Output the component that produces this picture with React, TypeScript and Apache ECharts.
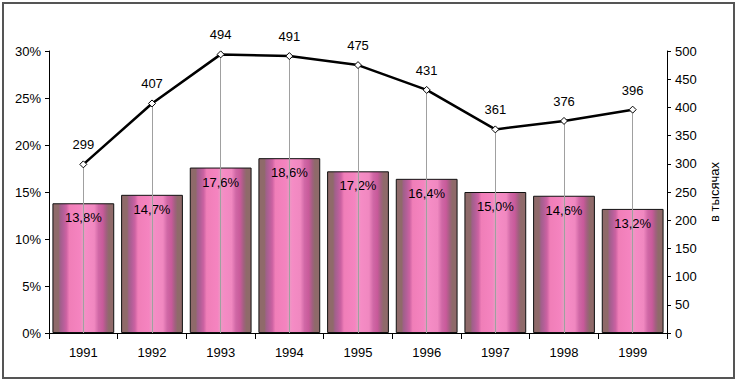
import React, { useEffect, useRef } from "react";
import * as echarts from "echarts";

const years = ["1991", "1992", "1993", "1994", "1995", "1996", "1997", "1998", "1999"];
const shares = [13.8, 14.7, 17.6, 18.6, 17.2, 16.4, 15.0, 14.6, 13.2];
const thousands = [299, 407, 494, 491, 475, 431, 361, 376, 396];
const rightAxisName = "в тысячах";

const FONT = "Liberation Sans, Arial, sans-serif";

export default function App() {
  const ref = useRef<HTMLDivElement>(null);
  useEffect(() => {
    document.body.style.margin = "0";
    const chart = echarts.init(ref.current!, null, { renderer: "svg" });
    const barGradient = new echarts.graphic.LinearGradient(0, 0, 1, 0, [
      { offset: 0, color: "#8f6a6a" },
      { offset: 0.09, color: "#8f6a6a" },
      { offset: 0.12, color: "#a0608a" },
      { offset: 0.17, color: "#b45f98" },
      { offset: 0.22, color: "#cc62a2" },
      { offset: 0.27, color: "#f07eb8" },
      { offset: 0.45, color: "#f584c0" },
      { offset: 0.5, color: "#e99bc2" },
      { offset: 0.55, color: "#f58cc5" },
      { offset: 0.68, color: "#f088c0" },
      { offset: 0.75, color: "#d068a6" },
      { offset: 0.82, color: "#c85a9a" },
      { offset: 0.88, color: "#a0607e" },
      { offset: 0.92, color: "#8f6a6a" },
      { offset: 1, color: "#8f6a6a" },
    ]);
    chart.setOption({
      animation: false,
      textStyle: { fontFamily: FONT },
      graphic: [
        {
          type: "rect",
          shape: { x: 3, y: 3, width: 731, height: 375 },
          style: { fill: "none", stroke: "#555", lineWidth: 2 },
          silent: true,
        },
      ],
      grid: { left: 49, right: 70, top: 51, bottom: 49 },
      xAxis: {
        type: "category",
        data: years,
        boundaryGap: true,
        axisLine: { lineStyle: { color: "#000", width: 1 } },
        axisTick: { show: true, length: 6, inside: false, lineStyle: { color: "#000" } },
        axisLabel: { color: "#000", fontSize: 13, margin: 13, fontFamily: FONT },
      },
      yAxis: [
        {
          type: "value",
          min: 0,
          max: 30,
          interval: 5,
          splitLine: { show: false },
          axisLine: { show: true, lineStyle: { color: "#000" } },
          axisTick: { show: true, length: 4, lineStyle: { color: "#000" } },
          axisLabel: { color: "#000", fontSize: 13, margin: 8, formatter: "{value}%", fontFamily: FONT },
        },
        {
          type: "value",
          min: 0,
          max: 500,
          interval: 50,
          position: "right",
          splitLine: { show: false },
          axisLine: { show: true, lineStyle: { color: "#000" } },
          axisTick: { show: true, length: 4, lineStyle: { color: "#000" } },
          axisLabel: { color: "#000", fontSize: 13, margin: 8, fontFamily: FONT },
          name: rightAxisName,
          nameLocation: "middle",
          nameRotate: 90,
          nameGap: 38,
          nameTextStyle: { color: "#000", fontSize: 13, fontFamily: FONT },
        },
      ],
      series: [
        {
          type: "bar",
          data: shares,
          barCategoryGap: "10%",
          itemStyle: { color: barGradient, borderColor: "#111", borderWidth: 1 },
          label: {
            show: true,
            position: "insideTop",
            distance: 8,
            color: "#000",
            fontSize: 13,
            fontFamily: FONT,
            formatter: (p: any) => p.value.toFixed(1).replace(".", ",") + "%",
          },
          z: 2,
        },
        {
          type: "line",
          yAxisIndex: 1,
          data: thousands,
          symbol: "diamond",
          symbolSize: 7,
          itemStyle: { color: "#fff", borderColor: "#000", borderWidth: 1 },
          lineStyle: { color: "#000", width: 2.5 },
          label: { show: true, position: "top", distance: 9, color: "#000", fontSize: 13, fontFamily: FONT },
          z: 4,
          markLine: {
            silent: true,
            symbol: ["none", "none"],
            label: { show: false },
            lineStyle: { color: "#a0a0a0", width: 1, type: "solid" },
            data: thousands.map((v, i) => [
              { coord: [i, v] },
              { coord: [i, 0] },
            ]),
            z: 3,
          },
        },
      ],
    });
    return () => chart.dispose();
  }, []);
  return <div ref={ref} style={{ width: 737, height: 382, background: "#fff" }} />;
}
